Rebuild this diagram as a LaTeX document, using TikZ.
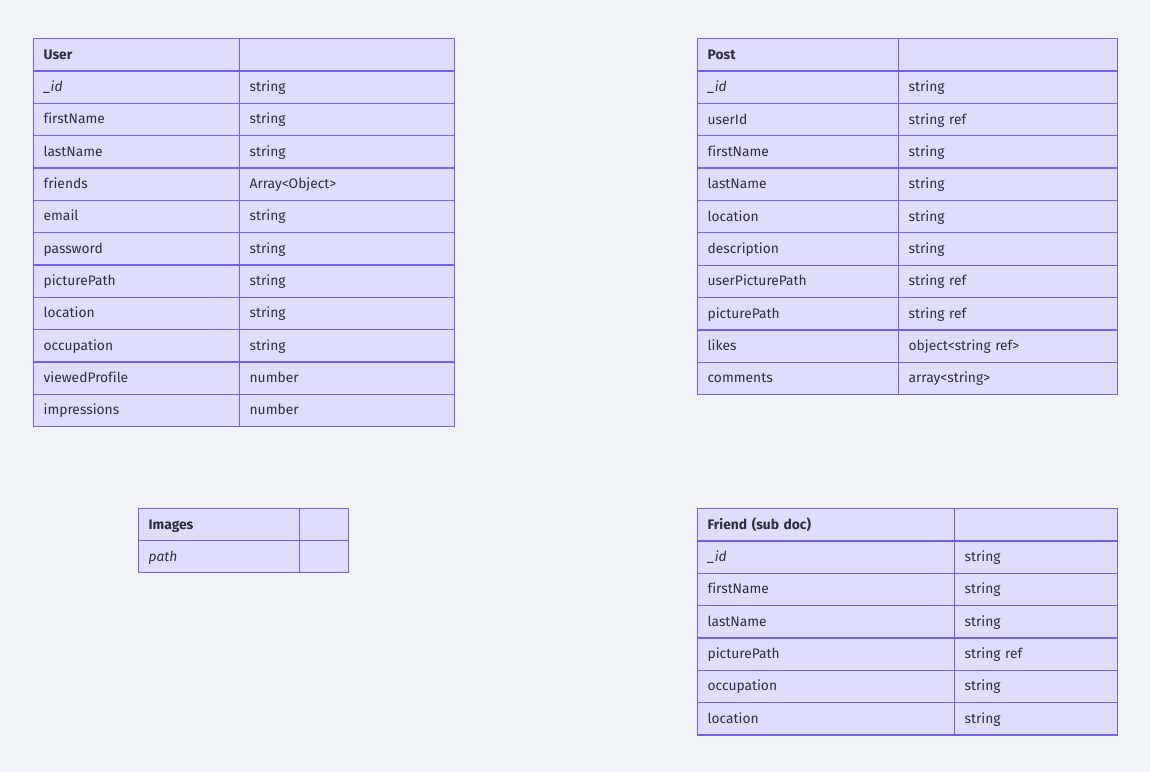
\documentclass[tikz,border=0pt]{standalone}
\usepackage{fontspec}
\setmainfont{Fira Sans}[Ligatures=NoCommon]
\definecolor{erfill}{HTML}{DEDEFC}
\definecolor{erline}{HTML}{6F62EE}
\definecolor{erbg}{HTML}{F0F3F7}
\definecolor{ertext}{HTML}{2E2E40}
\tikzset{
  cell/.style={draw=erline, fill=erfill, line width=1.3pt, inner xsep=10pt, inner ysep=0pt,
    text height=11pt, text depth=2pt,
    anchor=north west, align=left, text=ertext, font=\fontsize{13.8}{16}\selectfont},
}
\newcommand{\ertable}[8]{%
  \pgfmathsetmacro\erwa{#3-#2-20}%
  \pgfmathsetmacro\erwb{#4-#3-20}%
  \node[cell, text width=\erwa pt, minimum height=#6pt, font=\fontsize{13.8}{16}\selectfont\bfseries] (#1-h-a) at (#2,#5) {#7};
  \node[cell, text width=\erwb pt, minimum height=#6pt] (#1-h-b) at (#3,#5) {};
  \foreach \fn/\ft [count=\i] in {#8} {
    \node[cell, text width=\erwa pt, minimum height=#6pt] (#1-\i-a) at (#2,{#5+\i*#6}) {\fn};
    \node[cell, text width=\erwb pt, minimum height=#6pt] (#1-\i-b) at (#3,{#5+\i*#6}) {\ft};
  }
}
\begin{document}
\begin{tikzpicture}[x=1pt,y=-1pt]
\fill[erbg] (0,0) rectangle (1150,772);
\useasboundingbox (0,0) rectangle (1150,772);
\ertable{user}{33}{239}{454}{38}{32.33}{User}{\textit{\_id}/string, firstName/string, lastName/string, friends/Array<Object>, email/string, password/string, picturePath/string, location/string, occupation/string, viewedProfile/number, impressions/number}
\ertable{post}{697}{898}{1117}{38}{32.36}{Post}{\textit{\_id}/string, userId/string ref, firstName/string, lastName/string, location/string, description/string, userPicturePath/string ref, picturePath/string ref, likes/object<string ref>, comments/array<string>}
\ertable{img}{138}{299}{348}{508}{32}{Images}{\textit{path}/{}}
\ertable{friend}{697}{954}{1117}{508}{32.33}{Friend (sub doc)}{\textit{\_id}/string, firstName/string, lastName/string, picturePath/string ref, occupation/string, location/string}
\end{tikzpicture}
\end{document}
